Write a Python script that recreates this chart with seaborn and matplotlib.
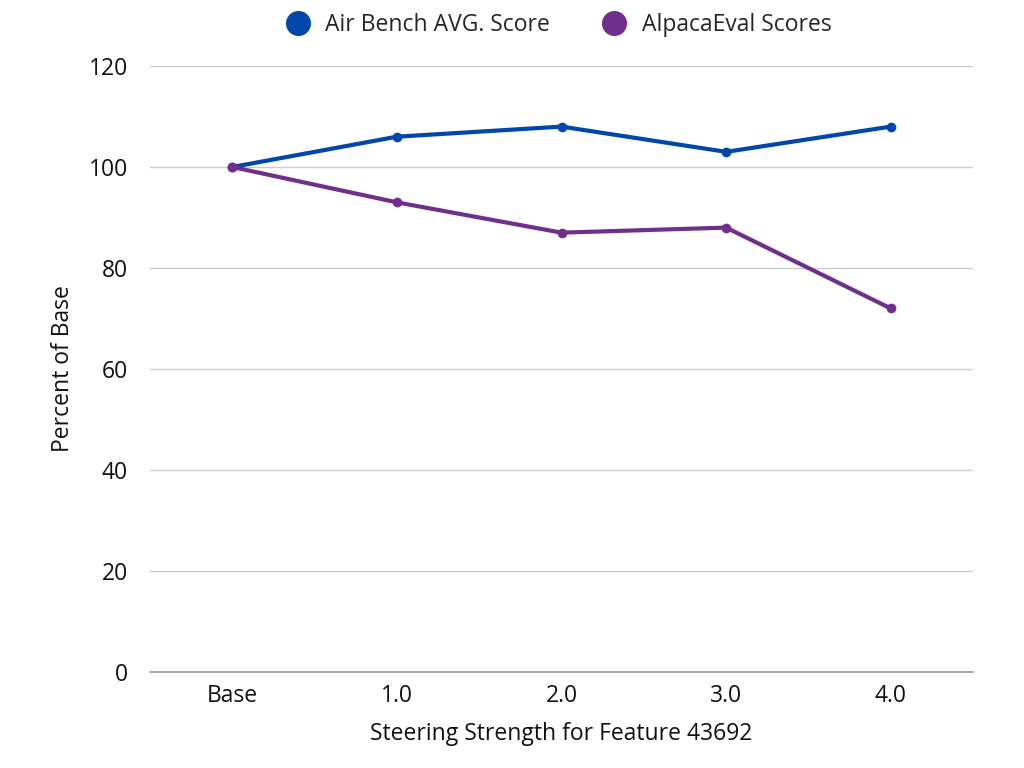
import matplotlib
matplotlib.use("Agg")
import matplotlib.pyplot as plt
import seaborn as sns
import pandas as pd
from matplotlib.lines import Line2D

categories = ["Base", "1.0", "2.0", "3.0", "4.0"]
air_bench = [100, 106, 108, 103, 108]
alpaca_eval = [100, 93, 87, 88, 72]
series_names = ["Air Bench AVG. Score", "AlpacaEval Scores"]
colors = ["#0047AB", "#702F8A"]
yticks = [0, 20, 40, 60, 80, 100, 120]

sns.set_theme(style="white")
plt.rcParams['font.family'] = ['Open Sans', 'DejaVu Sans']

rows = []
for i, c in enumerate(categories):
    rows.append({"x": i, "cat": c, "value": air_bench[i], "series": series_names[0]})
    rows.append({"x": i, "cat": c, "value": alpaca_eval[i], "series": series_names[1]})
df = pd.DataFrame(rows)

fig = plt.figure(figsize=(10.24, 7.68), dpi=100)
ax = fig.add_axes([150/1024, 1 - 672/768, (973-150)/1024, (672-66)/768])

sns.lineplot(data=df, x="x", y="value", hue="series", palette=dict(zip(series_names, colors)),
             marker="o", markersize=7, markeredgewidth=0, linewidth=3, ax=ax, legend=False)

ax.set_xlim(-0.5, len(categories) - 0.5)
ax.set_ylim(0, 120)
ax.set_xticks(range(len(categories)))
ax.set_xticklabels(categories)
ax.set_yticks(yticks)
ax.grid(axis="y", color="#cccccc", linewidth=1)
ax.set_axisbelow(True)
for s in ["top", "right", "left"]:
    ax.spines[s].set_visible(False)
ax.spines["bottom"].set_color("#999999")
ax.spines["bottom"].set_linewidth(1.2)
ax.tick_params(axis="both", length=0, labelsize=16.5, colors="#111111", pad=9)
ax.tick_params(axis="y", pad=16)
ax.set_xlabel("Steering Strength for Feature 43692", fontsize=16.5, color="#111111", labelpad=10)
ax.set_ylabel("Percent of Base", fontsize=16.5, color="#111111", labelpad=10)

handles = [Line2D([0], [0], marker="o", linestyle="", markersize=17, color=c) for c in colors]
fig.legend(handles, series_names, loc="upper center", bbox_to_anchor=(0.54, 1.01), ncol=2,
           frameon=False, fontsize=16.5, handletextpad=0.2, columnspacing=1.8)

fig.savefig("out.png", dpi=100)
